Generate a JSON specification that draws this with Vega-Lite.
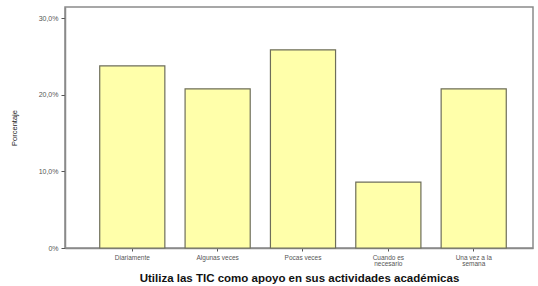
{
  "$schema": "https://vega.github.io/schema/vega-lite/v6.json",
  "width": 468,
  "height": 241,
  "autosize": {"type": "none"},
  "padding": {"left": 65, "top": 7, "right": 5, "bottom": 38},
  "background": "white",
  "view": {"stroke": "#8a8a8a", "strokeWidth": 1.5},
  "config": {"font": "Liberation Sans"},
  "data": {
    "values": [
      {"categoria": "Diariamente", "porcentaje": 23.8},
      {"categoria": "Algunas veces", "porcentaje": 20.8},
      {"categoria": "Pocas veces", "porcentaje": 25.9},
      {"categoria": "Cuando es|necesario", "porcentaje": 8.6},
      {"categoria": "Una vez a la|semana", "porcentaje": 20.8}
    ]
  },
  "mark": {"type": "bar", "fill": "#FFFFAA", "stroke": "#6e6e5a", "strokeWidth": 1.2},
  "encoding": {
    "x": {
      "field": "categoria",
      "type": "nominal",
      "sort": null,
      "scale": {"paddingInner": 0.237, "paddingOuter": 0.36, "align": 0.565},
      "axis": {
        "title": "Utiliza las TIC como apoyo en sus actividades académicas",
        "titleFont": "Liberation Sans",
        "titleFontSize": 11.5,
        "titleFontWeight": "bold",
        "titleColor": "#111",
        "titlePadding": 5,
        "labelAngle": 0,
        "labelFontSize": 6.5,
        "labelColor": "#555",
        "labelExpr": "split(datum.label, '|')",
        "labelLineHeight": 6.5,
        "labelPadding": 3,
        "tickSize": 3,
        "tickColor": "#555",
        "domainColor": "#8a8a8a",
        "domainWidth": 1.5
      }
    },
    "y": {
      "field": "porcentaje",
      "type": "quantitative",
      "scale": {"domain": [0, 31.5], "nice": false},
      "axis": {
        "title": "Porcentaje",
        "titleFontSize": 7.5,
        "titleFontWeight": "normal",
        "titleColor": "#222",
        "titlePadding": 20,
        "values": [0, 10, 20, 30],
        "labelExpr": "datum.value == 0 ? '0%' : replace(format(datum.value, '.1f'), '.', ',') + '%'",
        "labelFontSize": 7,
        "labelColor": "#555",
        "labelPadding": 3,
        "tickSize": 4,
        "tickColor": "#555",
        "grid": false,
        "domainColor": "#8a8a8a",
        "domainWidth": 1.5
      }
    }
  }
}
